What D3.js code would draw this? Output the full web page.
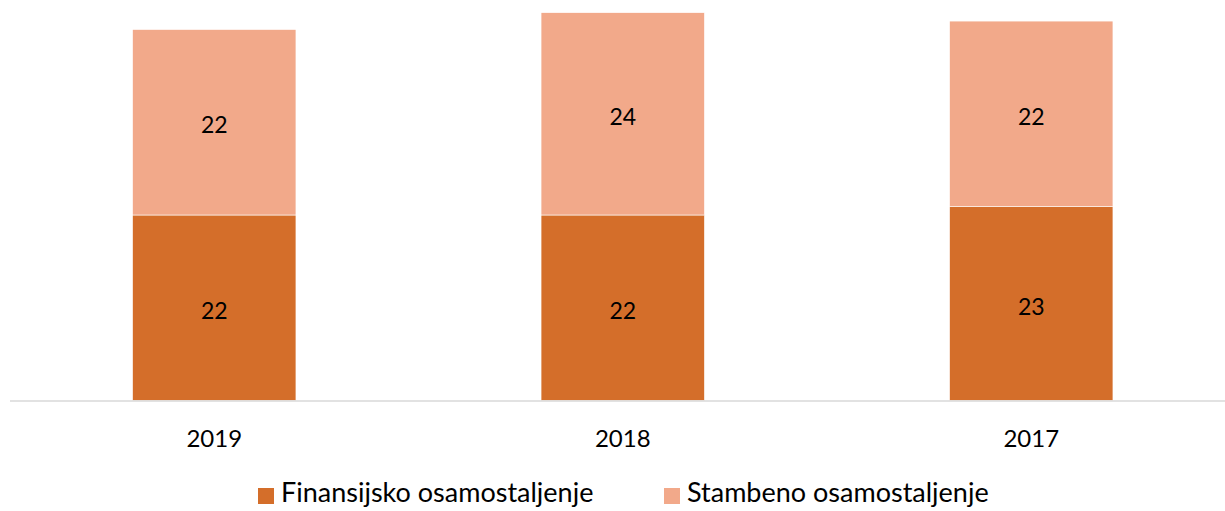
<!DOCTYPE html>
<html><head><meta charset="utf-8">
<script src="https://cdn.jsdelivr.net/npm/d3@7"></script>
<style>body{margin:0;background:#fff}svg{display:block;font-family:Lato,"Open Sans",sans-serif}</style>
</head><body><svg id="c" width="1225" height="511"></svg>
<script>
const categories = ["2019","2018","2017"];
const seriesNames = ["Finansijsko osamostaljenje","Stambeno osamostaljenje"];
const finansijsko = [22,22,23];
const stambeno = [22,24,22];
const colors = ["#D46E2A","#F2A98A"];

const svg = d3.select("#c");
const x = d3.scaleBand().domain(categories).range([10,1235.5]).paddingInner(0.6).paddingOuter(0.3);
const y = d3.scaleLinear().domain([0,47.5]).range([400.5,0]);

const rows = categories.map((c,i)=>({cat:c, f:finansijsko[i], s:stambeno[i]}));
const stack = d3.stack().keys(["f","s"])(rows);

stack.forEach((layer,li)=>{
  const g = svg.append("g");
  g.selectAll("rect").data(layer).join("rect")
    .attr("x",d=>x(d.data.cat))
    .attr("width",x.bandwidth())
    .attr("y",d=>y(d[1]))
    .attr("height",d=>y(d[0])-y(d[1]))
    .attr("fill",colors[li])
    .attr("stroke","#fff").attr("stroke-width",0.6);
  g.selectAll("text").data(layer).join("text")
    .attr("x",d=>x(d.data.cat)+x.bandwidth()/2)
    .attr("y",d=>(y(d[0])+y(d[1]))/2+3)
    .attr("dy","0.35em")
    .attr("text-anchor","middle")
    .attr("font-size",23)
    .attr("fill","#000")
    .text(d=>d[1]-d[0]);
});

// baseline
svg.append("line").attr("x1",10).attr("x2",1225).attr("y1",y(0)+0.5).attr("y2",y(0)+0.5)
  .attr("stroke","#d9d9d9").attr("stroke-width",1.5);

// axis labels
const xa = svg.append("g").attr("transform",`translate(0,${y(0)+1})`)
  .call(d3.axisBottom(x).tickSize(0).tickPadding(28));
xa.select(".domain").remove();
xa.selectAll("text").attr("font-size",24).attr("fill","#000").attr("font-family","Lato,'Open Sans',sans-serif");

// legend
const legX = [258,664];
const lg = svg.append("g");
seriesNames.forEach((n,i)=>{
  lg.append("rect").attr("x",legX[i]).attr("y",488).attr("width",16).attr("height",16).attr("fill",colors[i]);
  lg.append("text").attr("x",legX[i]+23).attr("y",493).attr("dy","0.35em")
    .attr("font-size",27).attr("fill","#000").text(n);
});
</script></body></html>
